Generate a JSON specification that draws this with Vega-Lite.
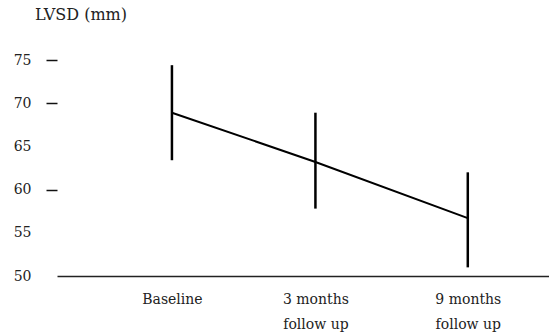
{
  "$schema": "https://vega.github.io/schema/vega-lite/v6.json",
  "autosize": {"type": "none"},
  "width": 492,
  "height": 216,
  "padding": {"left": 57, "top": 60, "right": 0, "bottom": 58},
  "background": "white",
  "title": {
    "text": "LVSD (mm)",
    "anchor": "start",
    "frame": "group",
    "dx": -22,
    "offset": 30,
    "font": "DejaVu Serif",
    "fontSize": 16,
    "fontWeight": "normal",
    "color": "#222"
  },
  "data": {
    "values": [
      {"time": "Baseline", "pos": 1, "mean": 68.9, "low": 63.4, "high": 74.4},
      {"time": "3 months follow up", "pos": 1.97, "mean": 63.2, "low": 57.8, "high": 68.9},
      {"time": "9 months follow up", "pos": 3, "mean": 56.7, "low": 51.0, "high": 62.0}
    ]
  },
  "config": {
    "view": {"stroke": null},
    "axis": {"labelFont": "DejaVu Serif", "labelFontSize": 14, "labelColor": "#222", "grid": false}
  },
  "encoding": {
    "x": {
      "field": "pos",
      "type": "quantitative",
      "scale": {"domain": [0.223, 3.549], "nice": false, "zero": false},
      "axis": {
        "title": null,
        "values": [1, 1.97, 3],
        "ticks": false,
        "domainColor": "#222",
        "domainWidth": 1.5,
        "labelPadding": 16,
        "labelBaseline": "top",
        "labelLineHeight": 25,
        "labelExpr": "datum.value == 1 ? 'Baseline' : datum.value < 2.5 ? ['3 months', 'follow up'] : ['9 months', 'follow up']"
      }
    }
  },
  "layer": [
    {
      "mark": {"type": "rule", "color": "black", "strokeWidth": 2.5},
      "encoding": {
        "y": {
          "field": "low",
          "type": "quantitative",
          "scale": {"domain": [50, 75], "nice": false, "zero": false},
          "axis": {
            "title": null,
            "values": [50, 55, 60, 65, 70, 75],
            "domain": false,
            "tickSize": 11,
            "tickColor": "#111",
            "tickWidth": 1.5,
            "tickOpacity": {"expr": "datum.value == 50 || datum.value == 55 || datum.value == 65 ? 0 : 1"},
            "labelPadding": 15
          }
        },
        "y2": {"field": "high"}
      }
    },
    {
      "mark": {"type": "line", "color": "black", "strokeWidth": 2},
      "encoding": {
        "y": {"field": "mean", "type": "quantitative"}
      }
    }
  ]
}
